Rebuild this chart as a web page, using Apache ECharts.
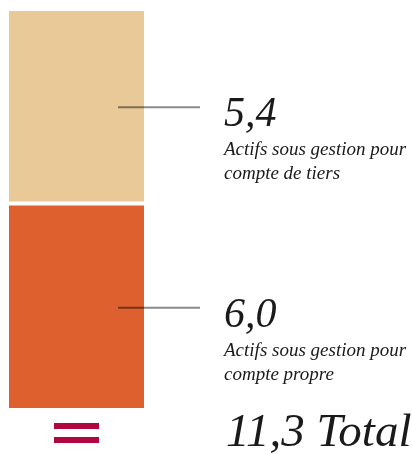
<!DOCTYPE html>
<html>
<head>
<meta charset="utf-8">
<script src="https://cdn.jsdelivr.net/npm/echarts@6/dist/echarts.min.js"></script>
<style>
  html, body { margin: 0; padding: 0; background: #fff; }
  #chart { width: 412px; height: 454px; }
</style>
</head>
<body>
<div id="chart"></div>
<script>
  // data
  const categories = ["Actifs"];
  const seriesNames = ["Actifs sous gestion pour compte propre", "Actifs sous gestion pour compte de tiers"];
  const labelLines = [["Actifs sous gestion pour", "compte propre"], ["Actifs sous gestion pour", "compte de tiers"]];
  const propreValues = [6.0];
  const tiersValues = [5.4];
  const totalValues = [11.3];
  const colors = ["#DD602E", "#E9C997"];

  const fmt = (v) => v.toFixed(1).replace(".", ",");

  const serif = "'Liberation Serif', 'DejaVu Serif', serif";
  const rich = {
    ln: { width: 82, height: 2, lineHeight: 2, backgroundColor: "rgba(0,0,0,0.46)", verticalAlign: "top", fontSize: 2 },
    sp: { width: 24, height: 2, lineHeight: 2, verticalAlign: "top", fontSize: 2 },
    sp2: { width: 106, fontSize: 2 },
    // value text hangs just under the leader line
    val: { fontFamily: serif, fontStyle: "italic", fontSize: 42, height: 18, lineHeight: 32, color: "#1a1a1a", verticalAlign: "top" },
    txt: { fontFamily: serif, fontStyle: "italic", fontSize: 19, lineHeight: 24, color: "#1a1a1a" },
  };

  const makeSeries = (idx, values) => ({
    name: seriesNames[idx],
    type: "bar",
    stack: "total",
    barWidth: "100%",
    data: values,
    itemStyle: { color: colors[idx], borderColor: "#fff", borderWidth: 2 },
    label: {
      show: true,
      position: [111, "50%"],
      offset: [0, 0],
      align: "left",
      verticalAlign: "top",
      formatter: (p) =>
        "{ln| }{sp| }{val|" + fmt(p.value) + "}\n" +
        labelLines[idx].map((t) => "{sp2| }{txt|" + t + "}").join("\n"),
      rich: rich,
    },
    emphasis: { disabled: true },
  });

  const myChart = echarts.init(document.getElementById("chart"));
  myChart.setOption({
    animation: false,
    grid: { left: 7, right: 266, top: 9, bottom: 45 },
    xAxis: { type: "category", data: categories, show: false },
    yAxis: { type: "value", min: 0.3, max: 11.4, show: false },
    title: {
      text: fmt(totalValues[0]) + " Total",
      left: 226,
      top: 410,
      padding: 0,
      textStyle: { fontFamily: serif, fontStyle: "italic", fontWeight: "normal", fontSize: 47, color: "#1a1a1a" },
    },
    graphic: [
      { type: "rect", shape: { x: 54, y: 423, width: 45, height: 6 }, style: { fill: "#B10640" } },
      { type: "rect", shape: { x: 54, y: 437, width: 45, height: 6 }, style: { fill: "#B10640" } },
    ],
    series: [makeSeries(0, propreValues), makeSeries(1, tiersValues)],
  });
</script>
</body>
</html>
